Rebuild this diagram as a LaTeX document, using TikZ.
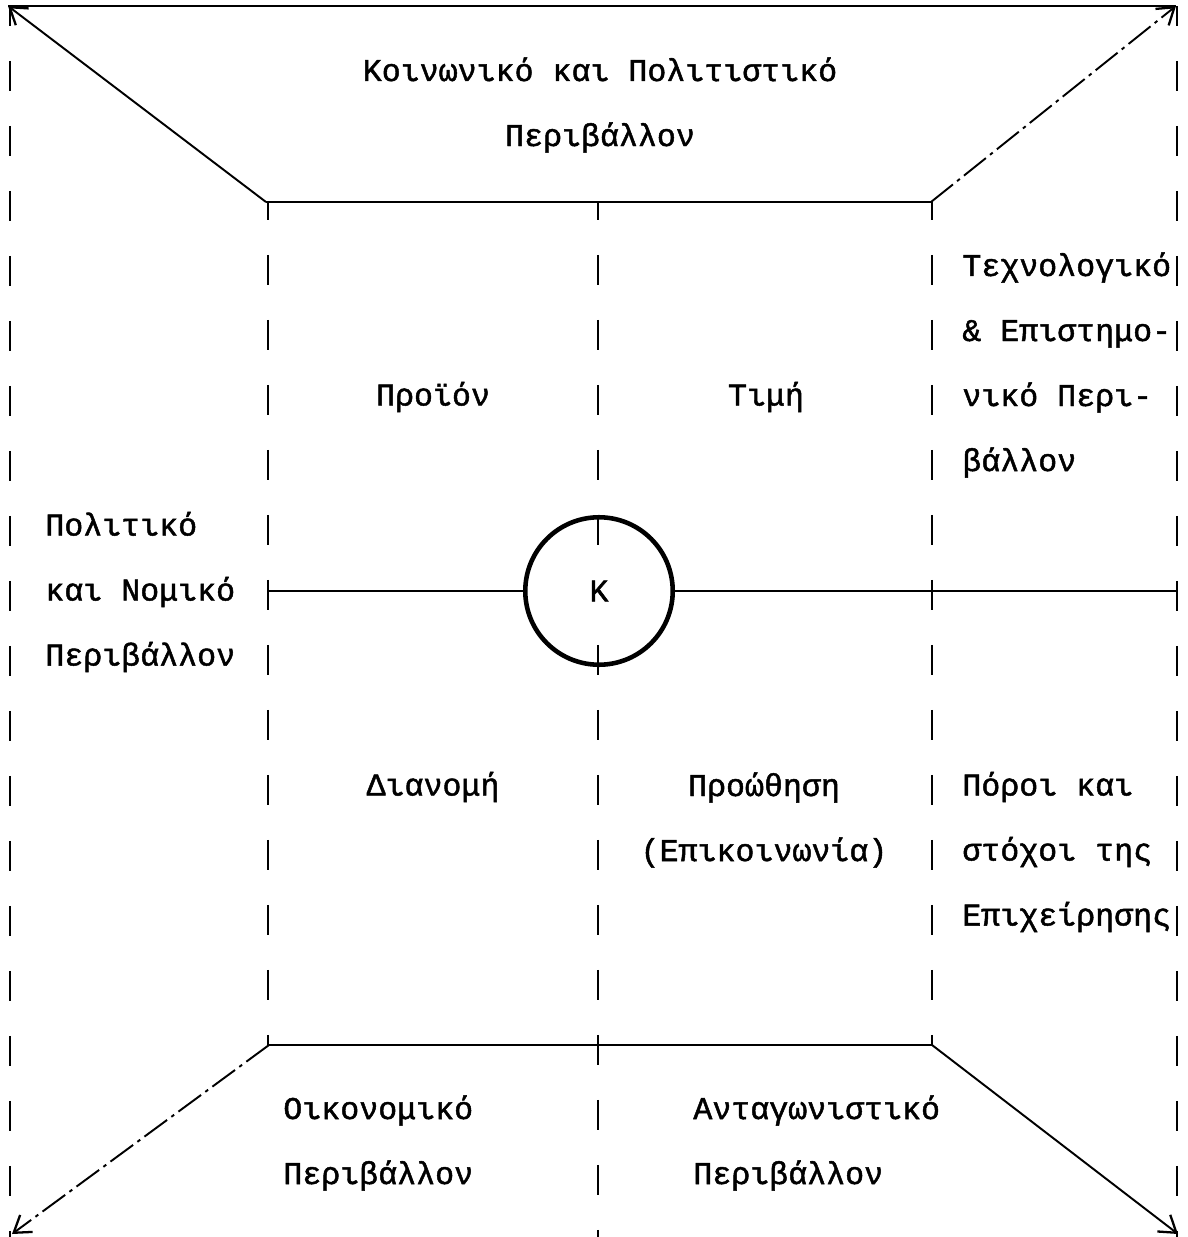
\documentclass[tikz,border=0pt]{standalone}
\usepackage{fontspec}
\usetikzlibrary{arrows.meta}
\newfontfamily\typefont{Liberation Mono}[FakeBold=1.5]
\tikzset{
  lbl/.style={font=\typefont\fontsize{18}{37}\selectfont, inner sep=0pt},
  frame/.style={line width=1.1pt},
  bars/.style={line width=1.3pt, dash pattern=on 0.6cm off 0.7cm},
  tip/.style={-{Straight Barb[length=9pt,width=12pt,line width=1.3pt]}},
  loose/.style={dash pattern=on 16pt off 3pt on 2pt off 3pt}
}

\begin{document}
\begin{tikzpicture}[x=0.02cm,y=-0.02cm]
  \useasboundingbox (0,0) rectangle (1187,1237);
  \coordinate (otl) at (8,6);
  \coordinate (otr) at (1176,6);
  \coordinate (obl) at (12,1234);
  \coordinate (obr) at (1178,1234);
  \coordinate (itl) at (266,202);
  \coordinate (itr) at (931,202);
  \coordinate (ibl) at (269,1045);
  \coordinate (ibr) at (932,1045);
  \draw[frame] (otl) -- (otr);
  \draw[frame] (itl) -- (itr);
  \draw[frame] (ibl) -- (ibr);
  \draw[frame,tip] (itl) -- (otl);
  \draw[frame,tip,loose] (itr) -- (otr);
  \draw[frame,tip,loose] (ibl) -- (obl);
  \draw[frame,tip] (ibr) -- (obr);
  \draw[bars,dash phase=0.2cm] (10,6) -- (10,1237);
  \draw[bars,dash phase=0.2cm] (1177,6) -- (1177,1237);
  \draw[bars,dash phase=0.24cm] (268,202) -- (268,1045);
  \draw[bars,dash phase=0.24cm] (598,202) -- (598,1237);
  \draw[bars,dash phase=0.24cm] (932,202) -- (932,1045);
  \node[circle,draw,line width=2.6pt,minimum size=2.95cm,inner sep=0pt] (core) at (599,591) {};
  \node[lbl,fill=white,inner sep=2pt,minimum height=0.9cm] (kern) at (core) {K};
  \coordinate (hl) at (268,591);
  \coordinate (hr) at (1176,591);
  \draw[line width=0.8pt] (hl) -- (core.west);
  \draw[line width=0.8pt] (core.east) -- (hr);
  \node[lbl,align=center] (soc) at (600,105) {Κοινωνικό και Πολιτιστικό\\Περιβάλλον};
  \node[lbl] (prod) at (433,397) {Προϊόν};
  \node[lbl] (price) at (766,397) {Τιμή};
  \node[lbl,align=left,anchor=west] (tech) at (962,365) {Τεχνολογικό\\\& Επιστημο-\\νικό Περι-\\βάλλον};
  \node[lbl,align=left,anchor=west] (pol) at (45,592) {Πολιτικό\\και Νομικό\\Περιβάλλον};
  \node[lbl] (dist) at (433,787) {Διανομή};
  \node[lbl,align=center] (promo) at (764,820) {Προώθηση\\(Επικοινωνία)};
  \node[lbl,align=left,anchor=west] (res) at (962,852) {Πόροι και\\στόχοι της\\Επιχείρησης};
  \node[lbl,align=left,anchor=west] (econ) at (283,1143) {Οικονομικό\\Περιβάλλον};
  \node[lbl,align=left,anchor=west] (comp) at (693,1143) {Ανταγωνιστικό\\Περιβάλλον};
\end{tikzpicture}
\end{document}
